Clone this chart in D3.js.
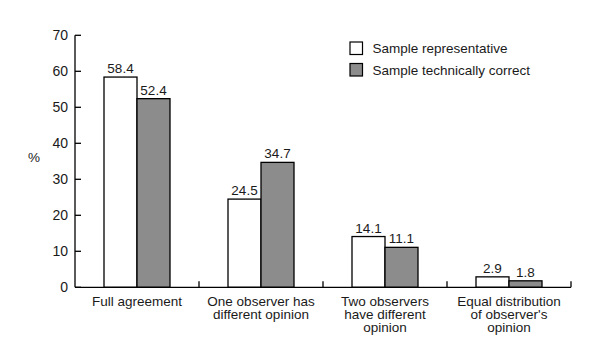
<!DOCTYPE html>
<html><head><meta charset="utf-8">
<script src="https://cdn.jsdelivr.net/npm/d3@7"></script>
<style>body{margin:0;background:#fff}svg{display:block}text{font-family:"Liberation Sans",Arial,sans-serif;fill:#1a1a1a}</style>
</head><body>
<script>
const categories = [["Full agreement"],["One observer has","different opinion"],["Two observers","have different","opinion"],["Equal distribution","of observer's","opinion"]];
const seriesNames = ["Sample representative","Sample technically correct"];
const representative = [58.4,24.5,14.1,2.9];
const technical = [52.4,34.7,11.1,1.8];
const yTicks = [0,10,20,30,40,50,60,70];
const colors = ["#ffffff","#8c8c8c"];

const W=591,H=359;
const svg=d3.select("body").append("svg").attr("width",W).attr("height",H);
const x0=75,x1=571,yTop=35.3,yBot=287.3;
const x=d3.scaleBand().domain(d3.range(categories.length)).range([x0,x1]);
const y=d3.scaleLinear().domain([0,70]).range([yBot,yTop]);
const barW=33;
const series=[representative,technical];
const fs=13.5;

// bars
series.forEach((vals,s)=>{
  svg.append("g").selectAll("rect").data(vals).join("rect")
    .attr("x",(d,i)=>x(i)+x.bandwidth()/2-barW+s*barW)
    .attr("y",d=>y(d)).attr("width",barW).attr("height",d=>yBot-y(d))
    .attr("fill",colors[s]).attr("stroke","#000").attr("stroke-width",1.3);
  svg.append("g").selectAll("text").data(vals).join("text")
    .attr("x",(d,i)=>x(i)+x.bandwidth()/2-barW/2+s*barW)
    .attr("y",d=>y(d)-4).attr("text-anchor","middle").attr("font-size",fs)
    .text(d=>d.toFixed(1));
});

// y axis
const ya=svg.append("g");
ya.append("line").attr("x1",x0).attr("x2",x0).attr("y1",yTop).attr("y2",yBot).attr("stroke","#000").attr("stroke-width",1.3);
ya.selectAll("line.t").data(yTicks).join("line").attr("class","t")
  .attr("x1",x0).attr("x2",x0+6).attr("y1",d=>y(d)).attr("y2",d=>y(d)).attr("stroke","#000").attr("stroke-width",1.3);
ya.selectAll("text").data(yTicks).join("text")
  .attr("x",x0-7).attr("y",d=>y(d)).attr("dy","0.35em").attr("text-anchor","end").attr("font-size",14).text(d=>d);
svg.append("text").attr("x",34).attr("y",162).attr("text-anchor","middle").attr("font-size",fs).text("%");

// x axis
const xa=svg.append("g");
xa.append("line").attr("x1",x0).attr("x2",x1).attr("y1",yBot).attr("y2",yBot).attr("stroke","#000").attr("stroke-width",1.3);
xa.selectAll("line.t").data(d3.range(1,categories.length+1)).join("line").attr("class","t")
  .attr("x1",d=>x0+d*x.bandwidth()).attr("x2",d=>x0+d*x.bandwidth()).attr("y1",yBot).attr("y2",yBot-6).attr("stroke","#000").attr("stroke-width",1.3);
categories.forEach((lines,i)=>{
  lines.forEach((l,k)=>svg.append("text").attr("text-anchor","middle").attr("font-size",fs)
    .attr("x",x(i)+x.bandwidth()/2).attr("y",306+k*12.8).text(l));
});

// legend
seriesNames.forEach((n,s)=>{
  svg.append("rect").attr("x",350).attr("y",42+s*21.5).attr("width",12.5).attr("height",12.5)
    .attr("fill",colors[s]).attr("stroke","#000").attr("stroke-width",1.2);
  svg.append("text").attr("x",372.5).attr("y",48.5+s*21.5).attr("dy","0.35em").attr("font-size",fs).text(n);
});
</script>
</body></html>
